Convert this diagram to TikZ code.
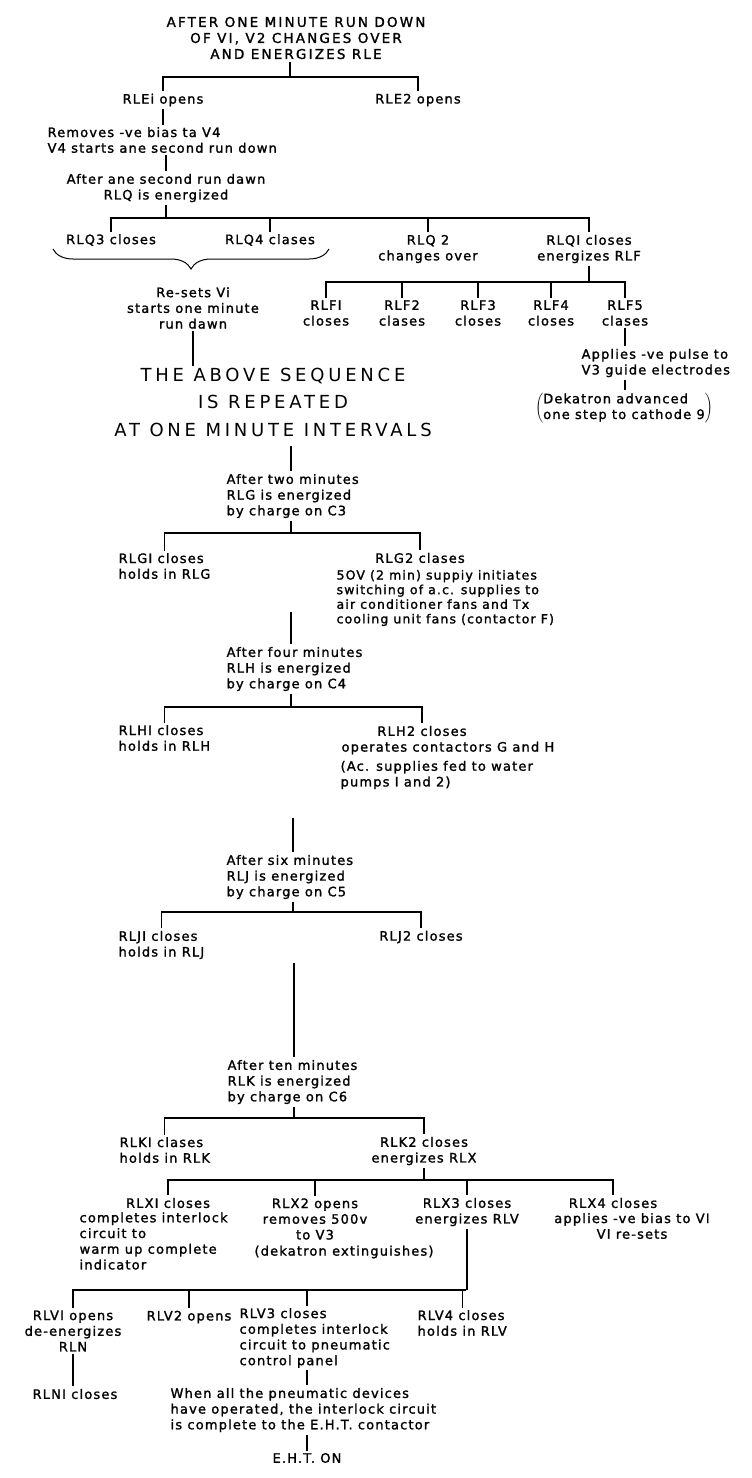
\documentclass[tikz,border=0pt]{standalone}
\usepackage{fontspec}
\setmainfont{DejaVu Sans}[LetterSpace=9, FakeBold=1.5]
\newfontfamily\capfont{DejaVu Sans}[LetterSpace=16, FakeBold=1.5]
\newfontfamily\seqfont{DejaVu Sans}[LetterSpace=21]
\usetikzlibrary{decorations.pathreplacing}

\newcommand\lblsize{\fontsize{13}{15.7}\selectfont}
\newcommand\lblsmall{\fontsize{12.5}{14.6}\selectfont}
\newcommand\hdrsize{\capfont\fontsize{13.5}{16}\selectfont}
\newcommand\seqsize{\seqfont\fontsize{18}{27.5}\selectfont}

\begin{document}
\begin{tikzpicture}[x=10pt, y=-10pt,
  txt/.style={font=\lblsize, inner sep=2pt, align=center},
  txtl/.style={font=\lblsize, inner sep=2pt, align=left, anchor=west}]
\useasboundingbox (0,0) rectangle (75.2,147.8);
\begin{scope}[line width=1.2pt]

\node[txt, font=\hdrsize] (title) at (29.6,3.8) {AFTER ONE MINUTE RUN DOWN\\OF VI, V2 CHANGES OVER\\AND ENERGIZES RLE};
\coordinate (bE) at (29.0,7.7);
\node[txt] (rle1) at (16.3,10.0) {RLEi opens};
\node[txt] (rle2) at (41.8,10.0) {RLE2 opens};
\draw (title.south -| bE) -- (bE);
\draw (rle1.north) |- (bE) -| (rle2.north);

\node[txtl] (rmv) at (4.5,14.0) {Removes -ve bias ta V4\\V4 starts ane second run down};
\draw (rle1.south) -- (rle1.south |- rmv.north);
\node[txt] (aos) at (16.6,18.8) {After ane second run dawn\\RLQ is energized};
\draw (aos.north) -- (aos.north |- rmv.south);

\coordinate (bQ) at (16.6,21.8);
\node[txt] (rlq3) at (11.1,24.0) {RLQ3 closes};
\node[txt] (rlq4) at (27.0,24.0) {RLQ4 clases};
\node[txt] (rlq2) at (42.8,24.9) {RLQ 2\\changes over};
\node[txt] (rlq1) at (58.9,24.9) {RLQI closes\\energizes RLF};
\draw (aos.south) -- (bQ);
\draw (rlq3.north) |- (bQ) -| (rlq1.north);
\foreach \n in {rlq4,rlq2} \draw (\n.north) -- (\n.north |- bQ);

\coordinate (brL) at (5.3,24.9);
\coordinate (brR) at (32.9,24.9);
\draw[line width=1pt, decorate, decoration={brace, mirror, amplitude=20pt}] (brL) -- (brR);

\node[txt] (resets) at (19.3,30.8) {Re-sets Vi\\starts one minute\\run dawn};
\node[font=\seqsize, align=center, inner sep=1pt] (seq) at (27.3,40.2) {THE ABOVE SEQUENCE\\IS REPEATED\\AT ONE MINUTE INTERVALS};
\draw (resets.south) -- (resets.south |- seq.north);

\coordinate (bF) at (58.9,28.2);
\draw (rlq1.south) -- (bF);
\foreach \n/\x/\w in {I/32.6/closes,2/40.2/clases,3/47.8/closes,4/55.1/closes,5/62.5/clases}
  \node[txt] (rlf\n) at (\x,31.3) {RLF\n\\\w};
\draw (rlfI.north) |- (bF) -| (rlf5.north);
\foreach \n in {2,3,4} \draw (rlf\n.north) -- (rlf\n.north |- bF);

\node[txtl] (apply) at (57.9,36.3) {Applies -ve pulse to\\V3 guide electrodes};
\draw (rlf5.south) -- (rlf5.south |- apply.north);
\node[txt] (dek) at (62.4,40.8) {$\left(\vcenter{\hbox{\begin{tabular}{@{}l@{}}Dekatron advanced\\one step to cathode 9\end{tabular}}}\right)$};
\draw (apply.south -| rlf5) -- (dek.north -| rlf5);

\coordinate (bG) at (29.1,53.3);
\node[txtl] (two) at (22.4,49.6) {After two minutes\\RLG is energized\\by charge on C3};
\draw[shorten <=8pt] (seq.south -| bG) -- (two.north -| bG);
\draw (two.south -| bG) -- (bG);
\node[txtl] (rlg1) at (11.6,56.6) {RLGI closes\\holds in RLG};
\node[txt] (rlg2) at (42.0,55.8) {RLG2 clases};
\node[txtl, font=\lblsmall] (rlg2b) at (33.4,59.8) {5OV (2 min) suppiy initiates\\switching of a.c. supplies to\\air conditioner fans and Tx\\cooling unit fans (contactor F)};
\draw (rlg1.north) |- (bG) -| (rlg2.north);

\coordinate (g4) at (29.1,61.2);
\node[txtl] (four) at (22.4,66.9) {After four minutes\\RLH is energized\\by charge on C4};
\draw (g4) -- (four.north -| g4);
\coordinate (bH) at (29.1,70.7);
\draw (four.south -| bH) -- (bH);
\node[txtl] (rlh1) at (11.6,73.8) {RLHI closes\\holds in RLH};
\node[txt] (rlh2) at (42.2,73.1) {RLH2 closes};
\node[txtl] (rlh2b) at (33.9,74.8) {operates contactors G and H};
\node[txtl] (rlh2c) at (33.8,77.5) {(Ac. supplies fed to water\\pumps I and 2)};
\draw (rlh1.north) |- (bH) -| (rlh2.north);

\coordinate (h6) at (29.3,81.8);
\node[txtl] (six) at (22.4,87.7) {After six minutes\\RLJ is energized\\by charge on C5};
\draw (h6) -- (six.north -| h6);
\coordinate (bJ) at (29.3,91.2);
\draw (six.south -| bJ) -- (bJ);
\node[txtl] (rlj1) at (11.6,94.5) {RLJI closes\\holds in RLJ};
\node[txt] (rlj2) at (42.1,93.7) {RLJ2 closes};
\draw (rlj1.north) |- (bJ) -| (rlj2.north);

\coordinate (j10) at (29.4,96.3);
\node[txtl] (ten) at (22.5,108.2) {After ten minutes\\RLK is energized\\by charge on C6};
\draw (j10) -- (ten.north -| j10);
\coordinate (bK) at (29.4,111.8);
\draw (ten.south -| bK) -- (bK);
\node[txtl] (rlk1) at (11.7,115.0) {RLKI clases\\holds in RLK};
\node[txt] (rlk2) at (42.4,115.1) {RLK2 closes\\energizes RLX};
\draw (rlk1.north) |- (bK) -| (rlk2.north);

\coordinate (bX) at (42.2,118.0);
\draw (rlk2.south) -- (rlk2.south |- bX);
\node[txt] (rlx1) at (16.8,120.3) {RLXI closes};
\node[txtl] (rlx1b) at (7.7,124.1) {completes interlock\\circuit to\\warm up complete\\indicator};
\node[txt] (rlx2) at (31.5,121.9) {RLX2 opens\\removes 500v\\to V3};
\node[txt] (rlx2b) at (34.4,125.2) {(dekatron extinguishes)};
\node[txt] (rlx3) at (46.7,121.2) {RLX3 closes\\energizes RLV};
\node[txt] (rlx4) at (61.3,120.3) {RLX4 closes};
\node[txt] (rlx4b) at (63.2,122.6) {applies -ve bias to VI\\VI re-sets};
\draw (rlx1.north) |- (bX) -| (rlx4.north);
\foreach \n in {rlx2,rlx3} \draw (\n.north) -- (\n.north |- bX);

\coordinate (bV) at (46.6,129.0);
\coordinate (cV3) at (30.7,129.0);
\draw (rlx3.south) -- (rlx3.south |- bV);
\node[txt] (rlv1) at (7.3,133.1) {RLVI opens\\de-energizes\\RLN};
\node[txt] (rlv2) at (18.9,131.7) {RLV2 opens};
\node[txtl] (rlv3) at (23.7,133.8) {RLV3 closes\\completes interlock\\circuit to pneumatic\\control panel};
\node[txtl] (rlv4) at (41.5,132.3) {RLV4 closes\\holds in RLV};
\draw (rlv1.north) |- (bV) -| (rlv4.north);
\draw (rlv2.north) -- (rlv2.north |- bV);
\draw (cV3) -- (cV3 |- rlv3.north);

\node[txt] (rln1) at (7.5,139.4) {RLNI closes};
\draw (rlv1.south) -- (rlv1.south |- rln1.north);
\node[txtl] (when) at (16.8,141.0) {When all the pneumatic devices\\have operated, the interlock circuit\\is complete to the E.H.T. contactor};
\draw (rlv3.south -| cV3) -- (when.north -| cV3);
\node[txt] (eht) at (30.7,145.8) {E.H.T. ON};
\draw (when.south -| eht) -- (eht.north);

\end{scope}
\end{tikzpicture}
\end{document}
